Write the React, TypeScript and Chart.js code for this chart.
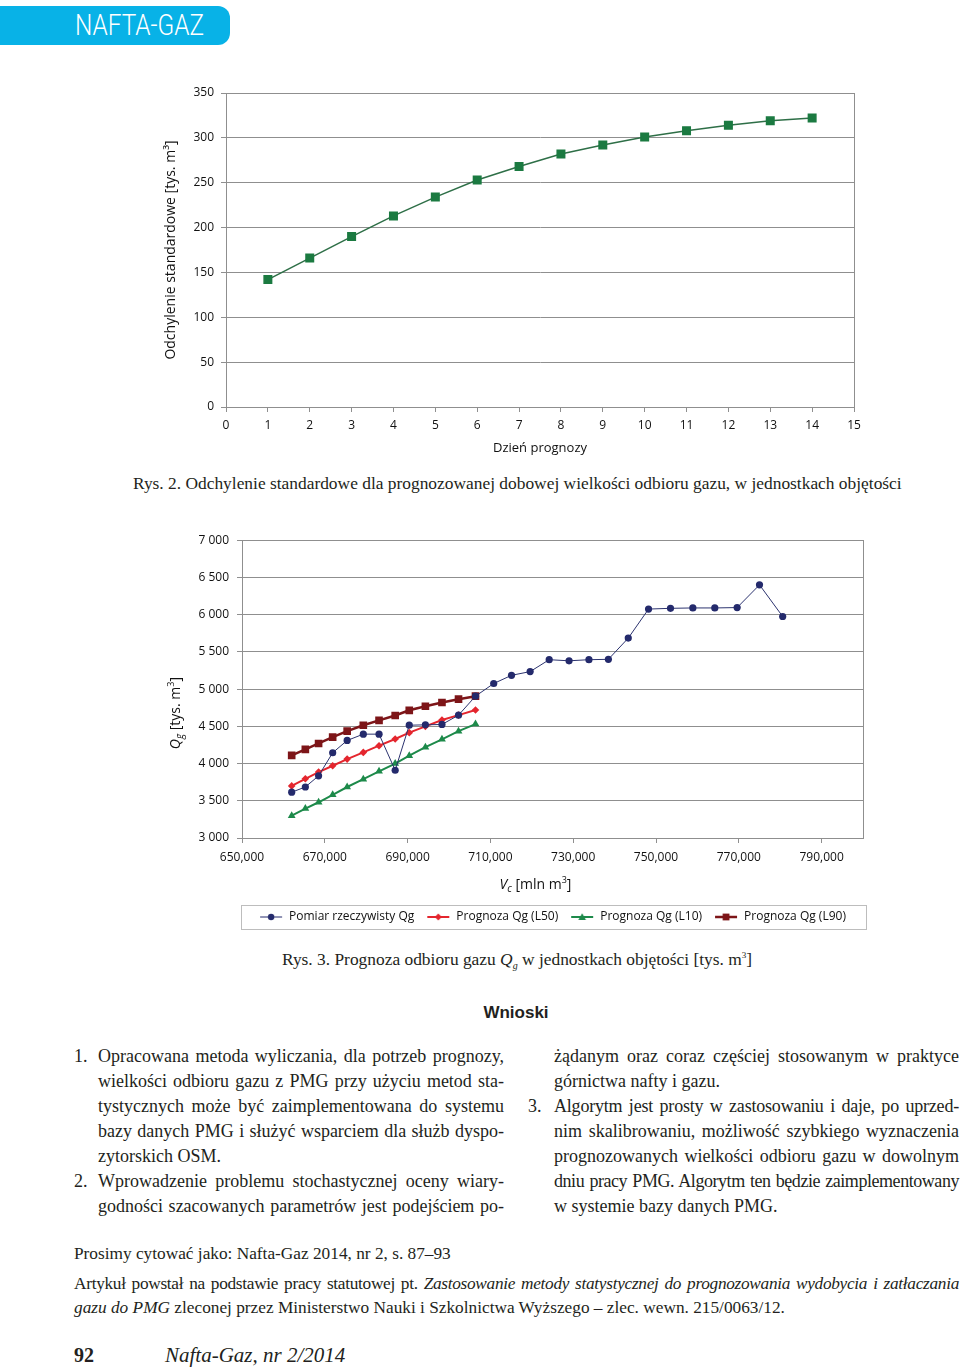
import React, { useEffect, useRef } from "react";
import { Chart, registerables } from "chart.js";

Chart.register(...registerables);

// ---------- Rys. 2 : standard deviation per forecast day ----------
const forecastDays = [1, 2, 3, 4, 5, 6, 7, 8, 9, 10, 11, 12, 13, 14];
const stdDeviation = [142, 166, 190, 213, 234, 253, 268, 282, 292, 301, 308, 314, 319, 322];
const stdAxisTitle = "Odchylenie standardowe [tys. m³]";
const dayAxisTitle = "Dzień prognozy";

// ---------- Rys. 3 : forecast of gas withdrawal ----------
const cumulativeVolume = [
  662000, 665300, 668500, 671900, 675400, 679300, 683100, 687000, 690400, 694300,
  698300, 702300, 706400, 710800, 715100, 719600, 724200, 729000, 733800, 738500,
  743300, 748200, 753500, 758900, 764200, 769600, 775000, 780600,
];
const measuredQg = [
  3615, 3685, 3835, 4145, 4310, 4395, 4395, 3910, 4515, 4520,
  4525, 4650, 4905, 5075, 5185, 5235, 5395, 5380, 5395, 5400,
  5685, 6075, 6085, 6090, 6090, 6095, 6400, 5975,
];
const forecastL50 = [3700, 3795, 3885, 3970, 4060, 4150, 4240, 4330, 4415, 4500, 4585, 4650, 4720];
const forecastL10 = [3300, 3395, 3480, 3580, 3685, 3790, 3895, 4000, 4105, 4220, 4325, 4435, 4530];
const forecastL90 = [4110, 4190, 4270, 4355, 4435, 4515, 4580, 4645, 4715, 4770, 4820, 4865, 4905];
const volumeTicks = [650000, 670000, 690000, 710000, 730000, 750000, 770000, 790000];
const seriesLabels = [
  "Pomiar rzeczywisty Qg",
  "Prognoza Qg (L50)",
  "Prognoza Qg (L10)",
  "Prognoza Qg (L90)",
];

const SANS = '"Open Sans", "Noto Sans", sans-serif';
const SERIF = '"Liberation Serif", "Times New Roman", serif';
const GRID = "#8f8f8f";

Chart.defaults.font.family = SANS;
Chart.defaults.color = "#111";

const plotBorder = {
  id: "plotBorder",
  afterDatasetsDraw(chart: any) {
    const { ctx, chartArea } = chart;
    ctx.save();
    ctx.strokeStyle = GRID;
    ctx.lineWidth = 1;
    ctx.strokeRect(
      Math.round(chartArea.left) + 0.5,
      Math.round(chartArea.top) + 0.5,
      Math.round(chartArea.right - chartArea.left),
      Math.round(chartArea.bottom - chartArea.top)
    );
    ctx.restore();
  },
};

function drawRich(ctx: any, parts: { t: string; size: number; italic?: boolean; dy?: number }[]) {
  let total = 0;
  for (const p of parts) {
    ctx.font = `${p.italic ? "italic " : ""}${p.size}px ${SANS}`;
    total += ctx.measureText(p.t).width;
  }
  let x = -total / 2;
  for (const p of parts) {
    ctx.font = `${p.italic ? "italic " : ""}${p.size}px ${SANS}`;
    ctx.fillText(p.t, x, p.dy || 0);
    x += ctx.measureText(p.t).width;
  }
}

const qgTitles = {
  id: "qgTitles",
  afterDraw(chart: any) {
    const { ctx, chartArea } = chart;
    const yScale = chart.scales.y;
    ctx.save();
    ctx.fillStyle = "#111";
    ctx.textBaseline = "middle";
    ctx.textAlign = "left";
    ctx.save();
    ctx.translate(yScale.left + 16, (chartArea.top + chartArea.bottom) / 2 + 24);
    ctx.rotate(-Math.PI / 2);
    drawRich(ctx, [
      { t: "Q", size: 14, italic: true },
      { t: "g", size: 10, italic: true, dy: 4 },
      { t: " [tys. m", size: 14 },
      { t: "3", size: 9, dy: -5 },
      { t: "]", size: 14 },
    ]);
    ctx.restore();
    ctx.save();
    ctx.translate((chartArea.left + chartArea.right) / 2 - 17, chartArea.bottom + 47);
    drawRich(ctx, [
      { t: "V", size: 14, italic: true },
      { t: "c", size: 10, italic: true, dy: 4 },
      { t: " [mln m", size: 14 },
      { t: "3", size: 9, dy: -5 },
      { t: "]", size: 14 },
    ]);
    ctx.restore();
    const lg = chart.legend;
    if (lg) {
      ctx.strokeStyle = "#bdbdbd";
      ctx.lineWidth = 1;
      ctx.strokeRect(Math.round(lg.left) - 0.5, Math.round(lg.top) + 6.5, Math.round(lg.width) + 4, 24);
    }
    ctx.restore();
  },
};

function makeIcon(color: string, lineWidth: number, marker: string, r: number) {
  const c = document.createElement("canvas");
  c.width = 24;
  c.height = 12;
  const g = c.getContext("2d")!;
  g.strokeStyle = color;
  g.fillStyle = color;
  g.lineWidth = lineWidth;
  g.beginPath();
  g.moveTo(1, 6);
  g.lineTo(23, 6);
  g.stroke();
  g.beginPath();
  const cx = 12;
  if (marker === "circle") g.arc(cx, 6, r, 0, Math.PI * 2);
  if (marker === "rect") g.rect(cx - r, 6 - r, 2 * r, 2 * r);
  if (marker === "rectRot") {
    g.moveTo(cx, 6 - r); g.lineTo(cx + r, 6); g.lineTo(cx, 6 + r); g.lineTo(cx - r, 6); g.closePath();
  }
  if (marker === "triangle") {
    g.moveTo(cx, 6 - r); g.lineTo(cx + r, 6 + r * 0.8); g.lineTo(cx - r, 6 + r * 0.8); g.closePath();
  }
  g.fill();
  return c;
}

export default function App() {
  const ref1 = useRef<HTMLCanvasElement>(null);
  const ref2 = useRef<HTMLCanvasElement>(null);

  useEffect(() => {
    const chart = new Chart(ref1.current!, {
      type: "line",
      data: {
        datasets: [
          {
            data: forecastDays.map((d, i) => ({ x: d, y: stdDeviation[i] })),
            borderColor: "#2e6f47",
            borderWidth: 1.5,
            backgroundColor: "#1b7a41",
            pointBackgroundColor: "#1b7a41",
            pointBorderColor: "#1b7a41",
            pointStyle: "rect",
            pointRadius: 5.3,
            tension: 0,
          },
        ],
      },
      options: {
        animation: false,
        responsive: true,
        maintainAspectRatio: false,
        layout: { padding: { top: 18, right: 16, bottom: 0, left: 0 } },
        plugins: { legend: { display: false }, tooltip: { enabled: false } },
        scales: {
          x: {
            type: "linear",
            min: 0,
            max: 15,
            ticks: { stepSize: 1, autoSkip: false, padding: 6, color: "#111", font: { size: 12 }, maxRotation: 0 },
            grid: { drawOnChartArea: false, tickLength: 5, color: GRID },
            border: { color: GRID },
            title: { display: true, text: dayAxisTitle, color: "#111", font: { size: 13 }, padding: { top: 0, bottom: 14 } },
            afterFit: (s: any) => { s.height = 63; },
          },
          y: {
            min: 0,
            max: 350,
            ticks: { stepSize: 50, padding: 7, color: "#111", font: { size: 12 } },
            grid: { color: GRID, tickLength: 5 },
            border: { color: GRID },
            title: { display: true, text: stdAxisTitle, color: "#111", font: { size: 14 }, padding: { top: 13, bottom: 0 } },
            afterFit: (s: any) => { s.width = 76; },
          },
        },
      },
      plugins: [plotBorder],
    } as any);
    return () => chart.destroy();
  }, []);

  useEffect(() => {
    const styles = [
      { color: "#242a6c", line: "#2c336f", lw: 1, marker: "circle", r: 3.6, ir: 3.2 },
      { color: "#e4262e", line: "#e4262e", lw: 2, marker: "rectRot", r: 3.8, ir: 3.5 },
      { color: "#1d8a4a", line: "#1d8a4a", lw: 2, marker: "triangle", r: 4.5, ir: 3.8 },
      { color: "#7d1518", line: "#7d1518", lw: 2.5, marker: "rect", r: 5.4, ir: 3.4 },
    ];
    const values = [measuredQg, forecastL50, forecastL10, forecastL90];
    const icons = styles.map((s) => makeIcon(s.color, s.lw, s.marker, s.ir));
    const chart = new Chart(ref2.current!, {
      type: "line",
      data: {
        datasets: values.map((vals, k) => ({
          label: seriesLabels[k],
          data: vals.map((v, i) => ({ x: cumulativeVolume[i], y: v })),
          borderColor: styles[k].line,
          borderWidth: styles[k].lw,
          backgroundColor: styles[k].color,
          pointBackgroundColor: styles[k].color,
          pointBorderColor: styles[k].color,
          pointBorderWidth: 0,
          pointStyle: styles[k].marker,
          pointRadius: styles[k].r,
          tension: 0,
        })),
      },
      options: {
        animation: false,
        responsive: true,
        maintainAspectRatio: false,
        layout: { padding: { top: 15, right: 17, bottom: 7, left: 0 } },
        plugins: {
          tooltip: { enabled: false },
          legend: {
            position: "bottom",
            fullSize: false,
            labels: {
              usePointStyle: true,
              pointStyleWidth: 24,
              padding: 12,
              color: "#111",
              font: { size: 12 },
              generateLabels: (ch: any) => {
                const base = (Chart.defaults.plugins.legend.labels as any).generateLabels(ch);
                return base.map((it: any, i: number) => ({ ...it, pointStyle: icons[i] }));
              },
            },
          },
        },
        scales: {
          x: {
            type: "linear",
            min: 650000,
            max: 800000,
            afterBuildTicks: (s: any) => { s.ticks = volumeTicks.map((v) => ({ value: v })); },
            ticks: {
              autoSkip: false,
              padding: 7,
              maxRotation: 0,
              color: "#111",
              font: { size: 12 },
              callback: (v: any) => Number(v).toLocaleString("en-US"),
            },
            grid: { drawOnChartArea: false, tickLength: 5, color: GRID },
            border: { color: GRID },
            afterFit: (s: any) => { s.height = 61; },
          },
          y: {
            min: 3000,
            max: 7000,
            ticks: {
              stepSize: 500,
              padding: 8,
              color: "#111",
              font: { size: 12 },
              callback: (v: any) => String(v).replace(/\B(?=(\d{3})+(?!\d))/g, " "),
            },
            grid: { color: GRID, tickLength: 5 },
            border: { color: GRID },
            afterFit: (s: any) => { s.width = 82; },
          },
        },
      },
      plugins: [plotBorder, qgTitles],
    } as any);
    return () => chart.destroy();
  }, []);

  const body: React.CSSProperties = { position: "absolute", fontFamily: SERIF, fontSize: 18, lineHeight: "25px", color: "#231f20", whiteSpace: "nowrap" };
  const jl = (x: number, y: number, w: number, text: string, justify = true, ls = 0) => (
    <div key={`${x}-${y}`} style={{ ...body, left: x, top: y - 12.5, width: w, letterSpacing: ls ? `${ls}px` : undefined, textAlign: justify ? "justify" : "left", textAlignLast: justify ? "justify" : "left" } as any}>
      {text}
    </div>
  );
  const ys = [1056, 1081, 1106, 1131, 1156, 1181, 1206];
  const small: React.CSSProperties = { ...body, fontSize: 17.3, lineHeight: "22px" };

  return (
    <div style={{ position: "absolute", left: 0, top: 0, width: 960, height: 1370, background: "#fff", overflow: "hidden" }}>
      <div style={{ position: "absolute", left: 0, top: 6, width: 230, height: 39, background: "#08b2e7", borderRadius: "0 12px 12px 0" }} />
      <div style={{ position: "absolute", left: 75, top: 6, height: 39, lineHeight: "39px", color: "#fff", fontFamily: "Roboto, sans-serif", fontWeight: 300, fontSize: 29, transform: "scaleX(0.84)", transformOrigin: "left center", whiteSpace: "nowrap" }}>
        NAFTA-GAZ
      </div>

      <div style={{ position: "absolute", left: 150, top: 75, width: 720, height: 395 }}>
        <canvas ref={ref1} />
      </div>
      <div style={{ ...body, left: 133, top: 472, fontSize: 17.4, lineHeight: "22px" }}>
        Rys. 2. Odchylenie standardowe dla prognozowanej dobowej wielkości odbioru gazu, w jednostkach objętości
      </div>

      <div style={{ position: "absolute", left: 160, top: 525, width: 720, height: 415 }}>
        <canvas ref={ref2} />
      </div>
      <div style={{ ...body, left: 282, top: 944, fontSize: 17.4, lineHeight: "22px" }}>
        Rys. 3. Prognoza odbioru gazu <i>Q<sub style={{ fontSize: 10 }}>g</sub></i> w jednostkach objętości [tys. m<sup style={{ fontSize: 9 }}>3</sup>]
      </div>

      <div style={{ position: "absolute", left: 416, width: 200, top: 1002, textAlign: "center", fontFamily: '"Liberation Sans", Arial, sans-serif', fontWeight: "bold", fontSize: 17, lineHeight: "22px", color: "#231f20" }}>
        Wnioski
      </div>

      {jl(74, ys[0], 24, "1.", false)}
      {jl(98, ys[0], 406, "Opracowana metoda wyliczania, dla potrzeb prognozy,")}
      {jl(98, ys[1], 406, "wielkości odbioru gazu z PMG przy użyciu metod sta-")}
      {jl(98, ys[2], 406, "tystycznych może być zaimplementowana do systemu")}
      {jl(98, ys[3], 406, "bazy danych PMG i służyć wsparciem dla służb dyspo-")}
      {jl(98, ys[4], 406, "zytorskich OSM.", false)}
      {jl(74, ys[5], 24, "2.", false)}
      {jl(98, ys[5], 406, "Wprowadzenie problemu stochastycznej oceny wiary-")}
      {jl(98, ys[6], 406, "godności szacowanych parametrów jest podejściem po-")}

      {jl(554, ys[0], 405, "żądanym oraz coraz częściej stosowanym w praktyce")}
      {jl(554, ys[1], 405, "górnictwa nafty i gazu.", false)}
      {jl(528, ys[2], 24, "3.", false)}
      {jl(554, ys[2], 405, "Algorytm jest prosty w zastosowaniu i daje, po uprzed-", true, -0.2)}
      {jl(554, ys[3], 405, "nim skalibrowaniu, możliwość szybkiego wyznaczenia")}
      {jl(554, ys[4], 405, "prognozowanych wielkości odbioru gazu w dowolnym")}
      {jl(554, ys[5], 405, "dniu pracy PMG. Algorytm ten będzie zaimplementowany", true, -0.45)}
      {jl(554, ys[6], 405, "w systemie bazy danych PMG.", false)}

      <div style={{ ...small, left: 74, top: 1243 }}>
        Prosimy cytować jako: Nafta-Gaz 2014, nr 2, s. 87–93
      </div>
      <div style={{ ...small, left: 74, top: 1273, width: 885, letterSpacing: "-0.3px", textAlign: "justify", textAlignLast: "justify" } as any}>
        Artykuł powstał na podstawie pracy statutowej pt. <i>Zastosowanie metody statystycznej do prognozowania wydobycia i zatłaczania</i>
      </div>
      <div style={{ ...small, left: 74, top: 1297 }}>
        <i>gazu do PMG</i> zleconej przez Ministerstwo Nauki i Szkolnictwa Wyższego – zlec. wewn. 215/0063/12.
      </div>

      <div style={{ ...body, left: 74, top: 1343, fontSize: 20, lineHeight: "24px", fontWeight: "bold" }}>92</div>
      <div style={{ ...body, left: 165, top: 1343, fontSize: 21, lineHeight: "24px", fontStyle: "italic" }}>Nafta-Gaz, nr 2/2014</div>
    </div>
  );
}
